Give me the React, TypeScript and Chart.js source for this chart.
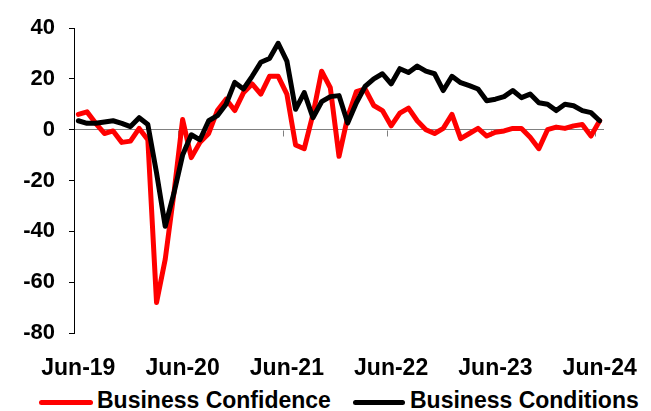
import { useEffect, useRef } from "react";
import { Chart, registerables } from "chart.js";

Chart.register(...registerables);

const months = [
  "Jun-19", "Jul-19", "Aug-19", "Sep-19", "Oct-19", "Nov-19", "Dec-19",
  "Jan-20", "Feb-20", "Mar-20", "Apr-20", "May-20", "Jun-20", "Jul-20", "Aug-20", "Sep-20", "Oct-20", "Nov-20", "Dec-20",
  "Jan-21", "Feb-21", "Mar-21", "Apr-21", "May-21", "Jun-21", "Jul-21", "Aug-21", "Sep-21", "Oct-21", "Nov-21", "Dec-21",
  "Jan-22", "Feb-22", "Mar-22", "Apr-22", "May-22", "Jun-22", "Jul-22", "Aug-22", "Sep-22", "Oct-22", "Nov-22", "Dec-22",
  "Jan-23", "Feb-23", "Mar-23", "Apr-23", "May-23", "Jun-23", "Jul-23", "Aug-23", "Sep-23", "Oct-23", "Nov-23", "Dec-23",
  "Jan-24", "Feb-24", "Mar-24", "Apr-24", "May-24", "Jun-24",
];

const businessConfidence = [
  6, 7, 2.5, -1.5, -0.5, -5, -4.5,
  0.5, -4, -68, -51, -25, 4, -11, -5, -1.5, 7.5, 12, 7.5,
  14.5, 18, 14, 21, 21, 14, -6, -7.5, 6, 23, 16.5, -10.5,
  5, 15, 16, 9.5, 7.5, 1.5, 6.5, 8.5, 3.5, 0, -1.5, 0.5,
  6, -3.5, -1.5, 0.5, -2.5, -1, -0.5, 0.5, 0.5, -3, -7.5, 0,
  1, 0.5, 1.5, 2, -2.5, 3.5,
];

const businessConditions = [
  3.5, 2.5, 2.5, 3, 3.5, 2.5, 1.2,
  4.7, 2, -17, -38, -25, -10, -2, -4, 3.5, 5.5, 10, 18.6,
  16, 21, 26.5, 28, 34, 27, 8, 14.6, 4.7, 11, 13, 13.4,
  2.6, 10.6, 17, 20, 22, 18, 24, 22.5, 25, 23, 22, 15.4,
  21, 18.5, 17.3, 16, 11.4, 12, 13, 15.4, 12.6, 14, 10.6, 10,
  7.5, 10, 9.4, 7.5, 6.7, 3.5,
];

const yMin = -80;
const yMax = 40;
const yStep = 20;

const seriesNames = ["Business Confidence", "Business Conditions"];
const seriesColors = ["#FF0000", "#000000"];

const FONT = "'Liberation Sans', Arial, sans-serif";

export default function App() {
  const ref = useRef<HTMLCanvasElement>(null);

  useEffect(() => {
    document.body.style.margin = "0";
    const zeroTicks = {
      id: "zeroTicks",
      beforeDatasetsDraw(chart: any) {
        const ctx = chart.ctx;
        const x = chart.scales.x;
        const y = chart.scales.y;
        const y0 = Math.round(y.getPixelForValue(0)) + 0.5;
        const half = (x.getPixelForValue(1) - x.getPixelForValue(0)) / 2;
        ctx.save();
        ctx.strokeStyle = "#808080";
        ctx.lineWidth = 1;
        ctx.beginPath();
        months.forEach((m, i) => {
          if (i > 0 && m.startsWith("Jun")) {
            const px = Math.round(x.getPixelForValue(i) - half) + 0.5;
            ctx.moveTo(px, y0);
            ctx.lineTo(px, y0 + 6);
          }
        });
        ctx.stroke();
        ctx.restore();
      },
    };

    const chart = new Chart(ref.current as HTMLCanvasElement, {
      type: "line",
      data: {
        labels: months,
        datasets: [
          {
            label: seriesNames[0],
            data: businessConfidence,
            borderColor: seriesColors[0],
            backgroundColor: seriesColors[0],
            borderWidth: 5,
            pointRadius: 0,
            tension: 0,
            borderJoinStyle: "round",
            borderCapStyle: "round",
            order: 2,
          },
          {
            label: seriesNames[1],
            data: businessConditions,
            borderColor: seriesColors[1],
            backgroundColor: seriesColors[1],
            borderWidth: 5,
            pointRadius: 0,
            tension: 0,
            borderJoinStyle: "round",
            borderCapStyle: "round",
            order: 1,
          },
        ],
      },
      options: {
        responsive: false,
        animation: false,
        devicePixelRatio: 1,
        layout: { padding: { top: 28, left: 0, right: 0, bottom: 0 } },
        plugins: {
          legend: { display: false },
          tooltip: { enabled: false },
        },
        scales: {
          x: {
            type: "category",
            offset: true,
            grid: { display: false },
            border: { display: false },
            ticks: {
              autoSkip: false,
              maxRotation: 0,
              minRotation: 0,
              padding: 14,
              color: "#000",
              font: { family: FONT, size: 23, weight: "bold" },
              callback: (_v: any, i: number) => (months[i].startsWith("Jun") ? months[i] : null),
            },
            afterFit: (s: any) => {
              s.height = 47;
            },
          },
          y: {
            type: "linear",
            min: yMin,
            max: yMax,
            ticks: {
              stepSize: yStep,
              padding: 14,
              color: "#000",
              font: { family: FONT, size: 22, weight: "bold" },
            },
            grid: {
              drawOnChartArea: true,
              color: (c: any) => (c.tick && c.tick.value === 0 ? "#808080" : "rgba(0,0,0,0)"),
              tickColor: "#000",
              tickLength: 5,
              lineWidth: 1,
            },
            border: { display: true, color: "#000", width: 1 },
            afterFit: (s: any) => {
              s.width = 74;
            },
          },
          y2: {
            type: "linear",
            position: "right",
            display: true,
            grid: { display: false },
            border: { display: false },
            ticks: { display: false },
            afterFit: (s: any) => {
              s.width = 33;
            },
          },
        },
      },
      plugins: [zeroTicks],
    } as any);
    return () => chart.destroy();
  }, []);

  const legendText: any = {
    position: "absolute",
    top: 389,
    fontFamily: FONT,
    fontWeight: "bold",
    fontSize: 23,
    lineHeight: "23px",
    color: "#000",
    whiteSpace: "nowrap",
  };
  const swatch = (left: number, width: number, color: string): any => ({
    position: "absolute",
    left,
    top: 400,
    width,
    height: 5,
    borderRadius: 3,
    background: color,
  });

  return (
    <div style={{ position: "relative", width: 651, height: 411, background: "#fff", overflow: "hidden" }}>
      <canvas ref={ref} width={651} height={380} style={{ display: "block" }} />
      <div style={swatch(39, 54, seriesColors[0])} />
      <div style={{ ...legendText, left: 97 }}>{seriesNames[0]}</div>
      <div style={swatch(353, 52, seriesColors[1])} />
      <div style={{ ...legendText, left: 410 }}>{seriesNames[1]}</div>
    </div>
  );
}
